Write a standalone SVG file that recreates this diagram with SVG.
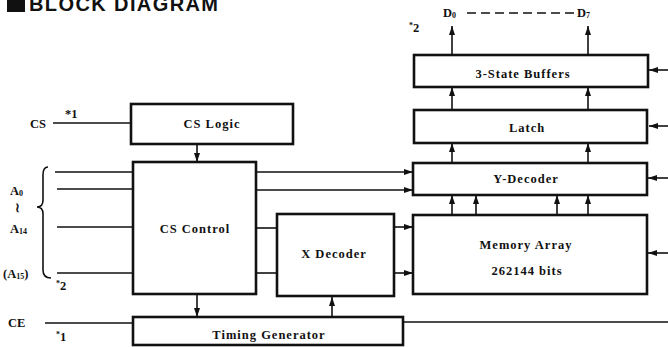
<svg xmlns="http://www.w3.org/2000/svg" width="668" height="347" viewBox="0 0 668 347">
<defs>
<marker id="ah" markerUnits="userSpaceOnUse" markerWidth="10" markerHeight="8" refX="9" refY="4" orient="auto">
<path d="M0,1 L9,4 L0,7 Z" fill="#111"/>
</marker>
<style>
.box{fill:#fff;stroke:#111;stroke-width:2.6}
.ln{fill:none;stroke:#111;stroke-width:1.6}
.ar{fill:none;stroke:#111;stroke-width:1.6;marker-end:url(#ah)}
.t{font-family:"Liberation Serif","Times New Roman",serif;font-weight:bold;font-size:12.5px;fill:#111;text-anchor:middle;letter-spacing:1px}
.lb{font-family:"Liberation Serif","Times New Roman",serif;font-weight:bold;font-size:12.5px;fill:#111}
.sm{font-size:8px}
</style>
</defs>
<rect width="668" height="347" fill="#fff"/>
<g id="title">
<rect x="7" y="-6" width="18" height="18" fill="#111"/>
<text x="29" y="11" font-family="'Liberation Sans',Arial,sans-serif" font-weight="bold" font-size="20" letter-spacing="1.4" fill="#111">BLOCK  DIAGRAM</text>
</g>
<g id="connectors">
<line class="ln" x1="53" y1="123" x2="131" y2="123"/>
<line class="ar" x1="197" y1="144" x2="197" y2="162"/>
<line class="ln" x1="55" y1="172" x2="133" y2="172"/>
<line class="ln" x1="57" y1="189" x2="133" y2="189"/>
<line class="ln" x1="57" y1="227" x2="133" y2="227"/>
<line class="ln" x1="57" y1="273" x2="133" y2="273"/>
<path class="ln" d="M48,167 Q43,167 43,175 L43,200 Q43,207 37,207 Q43,207 43,214 L43,270 Q43,278 51,278"/>
<line class="ar" x1="256" y1="172" x2="413" y2="172"/>
<line class="ar" x1="256" y1="190" x2="413" y2="190"/>
<line class="ln" x1="256" y1="228" x2="277" y2="228"/>
<line class="ln" x1="256" y1="273" x2="277" y2="273"/>
<line class="ar" x1="394" y1="227" x2="413" y2="227"/>
<line class="ar" x1="394" y1="273" x2="413" y2="273"/>
<line class="ar" x1="197" y1="294" x2="197" y2="317"/>
<line class="ar" x1="332" y1="317" x2="332" y2="297"/>
<line class="ln" x1="45" y1="323" x2="133" y2="323"/>
<line class="ln" x1="403" y1="322" x2="668" y2="322"/>
<line class="ar" x1="452" y1="215" x2="452" y2="195"/>
<line class="ar" x1="476" y1="215" x2="476" y2="195"/>
<line class="ar" x1="557" y1="215" x2="557" y2="195"/>
<line class="ar" x1="588" y1="215" x2="588" y2="195"/>
<line class="ar" x1="452" y1="163" x2="452" y2="143"/>
<line class="ar" x1="588" y1="163" x2="588" y2="143"/>
<line class="ar" x1="452" y1="110" x2="452" y2="87"/>
<line class="ar" x1="588" y1="110" x2="588" y2="87"/>
<line class="ar" x1="452" y1="55" x2="452" y2="26"/>
<line class="ar" x1="588" y1="55" x2="588" y2="26"/>
<line class="ln" x1="467" y1="13" x2="576" y2="13" stroke-dasharray="9,5" stroke-width="2"/>
<line class="ar" x1="668" y1="70" x2="649" y2="70"/>
<line class="ar" x1="668" y1="126" x2="649" y2="126"/>
<line class="ar" x1="668" y1="178" x2="648" y2="178"/>
<line class="ar" x1="668" y1="253" x2="648" y2="253"/>
</g>
<g id="cs-logic">
<rect class="box" x="131" y="104" width="162" height="40"/>
<text class="t" x="212" y="128">CS Logic</text>
</g>
<g id="cs-control">
<rect class="box" x="133" y="162" width="123" height="132"/>
<text class="t" x="195" y="233">CS Control</text>
</g>
<g id="x-decoder">
<rect class="box" x="277" y="214" width="117" height="82"/>
<text class="t" x="334" y="258">X Decoder</text>
</g>
<g id="timing-generator">
<rect class="box" x="133" y="317" width="270" height="28"/>
<text class="t" x="269" y="339">Timing Generator</text>
</g>
<g id="three-state-buffers">
<rect class="box" x="414" y="55" width="234" height="32"/>
<text class="t" x="523" y="78">3-State Buffers</text>
</g>
<g id="latch">
<rect class="box" x="414" y="110" width="233" height="33"/>
<text class="t" x="527" y="132">Latch</text>
</g>
<g id="y-decoder">
<rect class="box" x="413" y="163" width="234" height="32"/>
<text class="t" x="526" y="183">Y-Decoder</text>
</g>
<g id="memory-array">
<rect class="box" x="413" y="215" width="234" height="79"/>
<text class="t" x="526" y="249">Memory Array</text>
<text class="t" x="527" y="275">262144 bits</text>
</g>
<g id="labels">
<text class="lb" x="30" y="128">CS</text>
<text class="lb" x="65" y="118">*1</text>
<text class="lb" x="10" y="195">A<tspan class="sm" dy="1">0</tspan></text>
<text class="lb" x="15" y="212">≀</text>
<text class="lb" x="10" y="233">A<tspan class="sm" dy="1">14</tspan></text>
<text class="lb" x="3" y="278">(A<tspan class="sm" dy="1">15</tspan><tspan dy="-1">)</tspan></text>
<text class="lb" x="56" y="290"><tspan class="sm" dy="-4">*</tspan><tspan dy="4">2</tspan></text>
<text class="lb" x="8" y="327">CE</text>
<text class="lb" x="56" y="341"><tspan class="sm" dy="-4">*</tspan><tspan dy="4">1</tspan></text>
<text class="lb" x="409" y="32"><tspan class="sm" dy="-4">*</tspan><tspan dy="4">2</tspan></text>
<text class="lb" x="443" y="17">D<tspan class="sm" dy="1">0</tspan></text>
<text class="lb" x="577" y="17">D<tspan class="sm" dy="1">7</tspan></text>
</g>
</svg>
